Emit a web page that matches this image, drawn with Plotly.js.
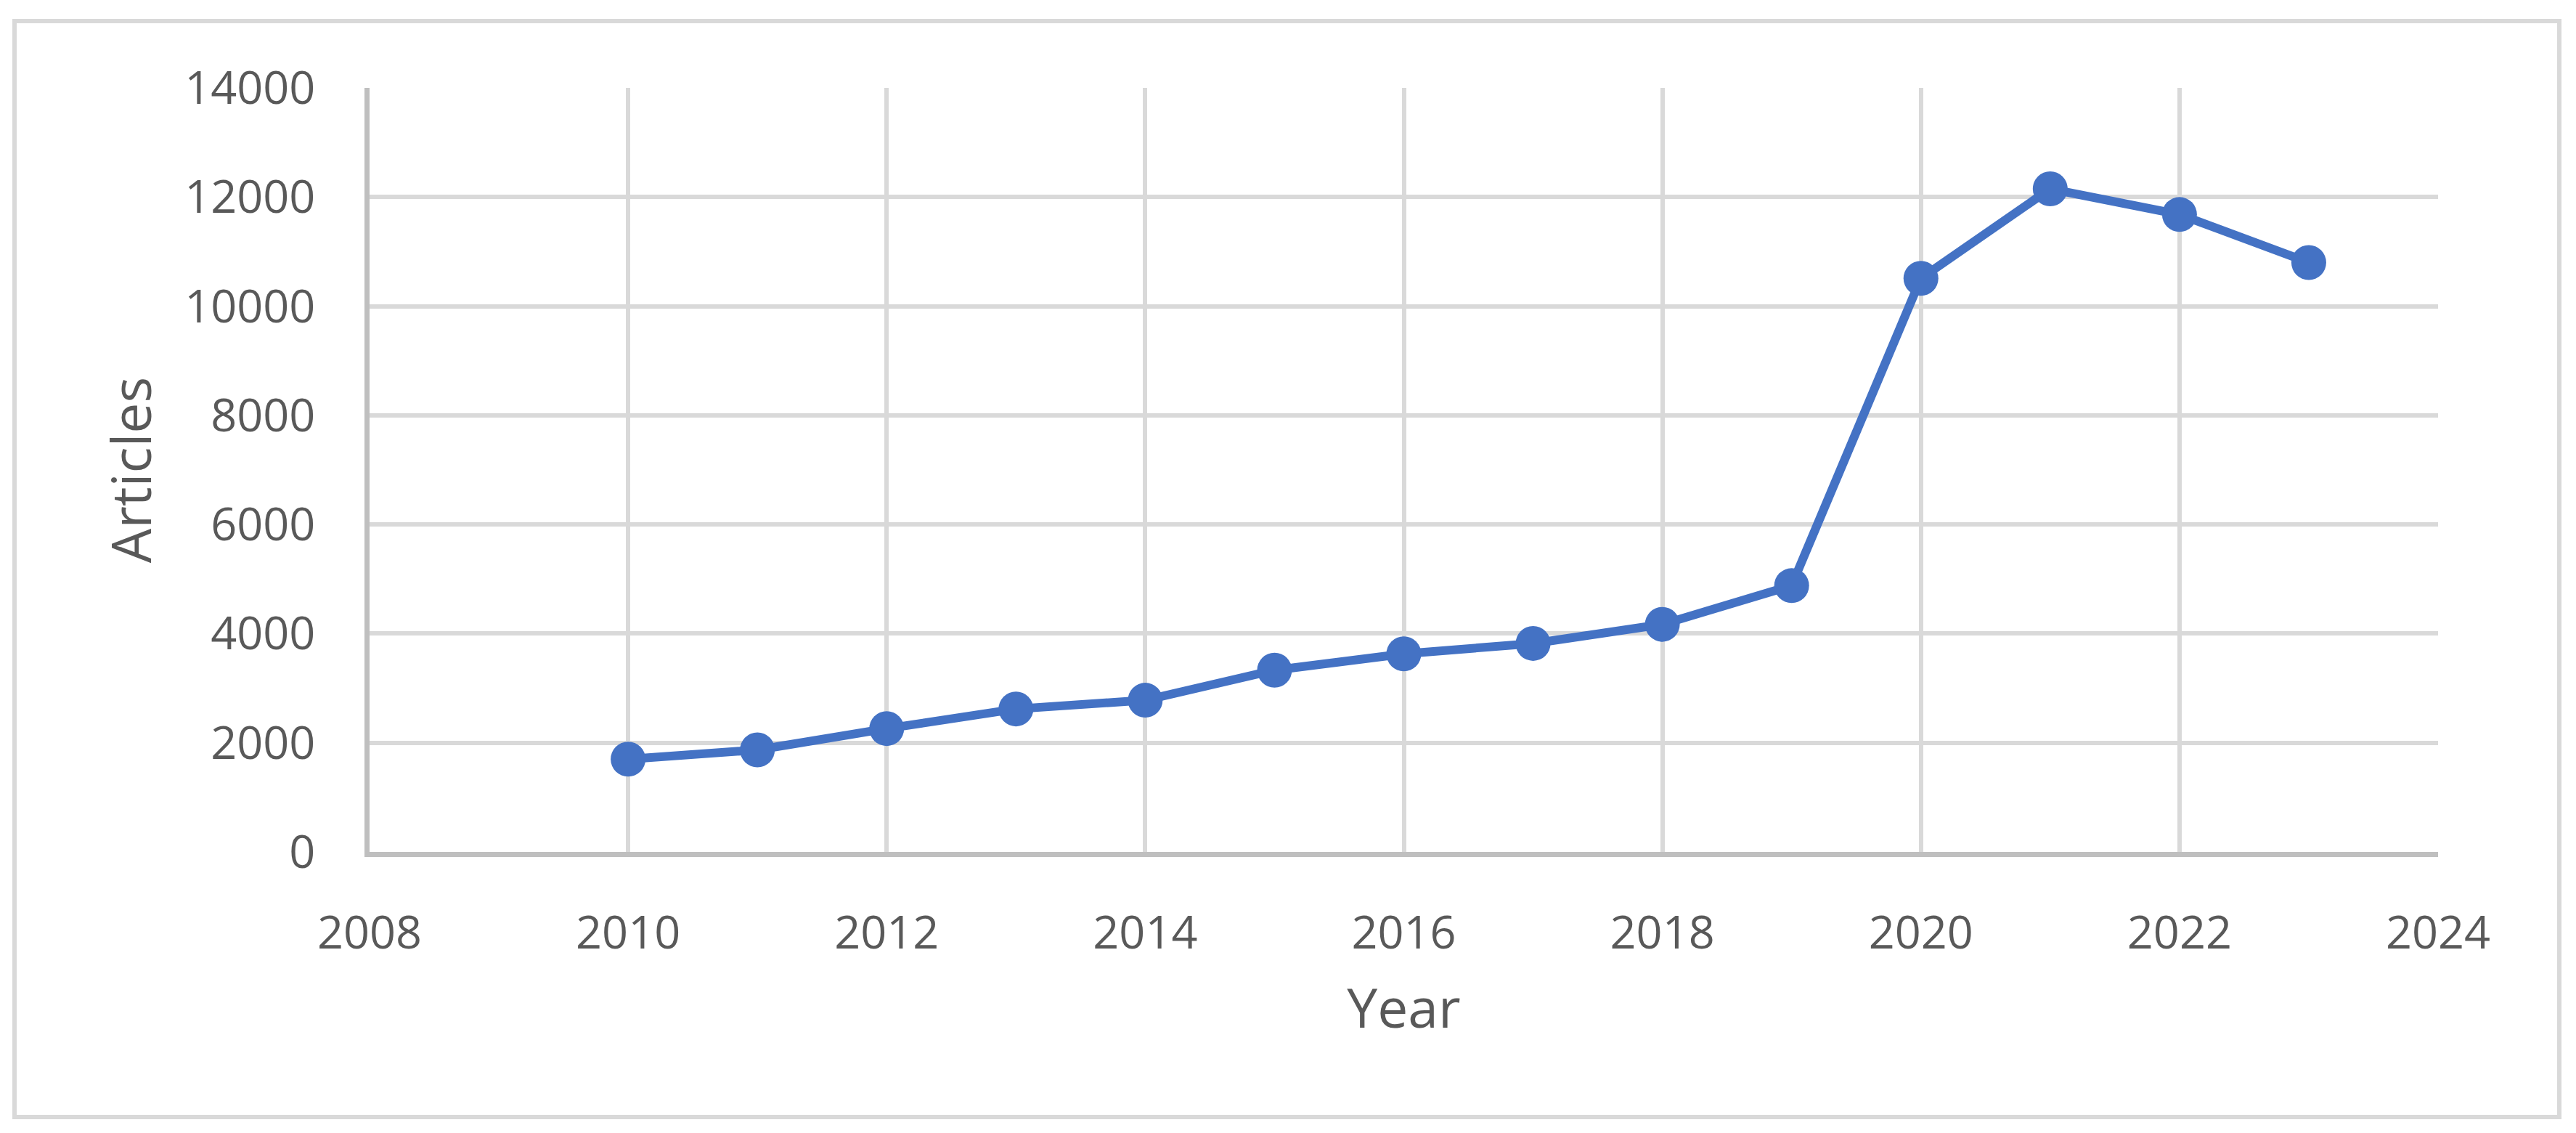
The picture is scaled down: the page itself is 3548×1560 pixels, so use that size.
<!DOCTYPE html>
<html>
<head>
<meta charset="utf-8">
<script src="https://cdn.plot.ly/plotly-3.0.1.min.js"></script>
<style>html,body{margin:0;padding:0;background:#fff;}#chart{width:3548px;height:1560px;}</style>
</head>
<body>
<div id="chart"></div>
<script>
const years = [2010, 2011, 2012, 2013, 2014, 2015, 2016, 2017, 2018, 2019, 2020, 2021, 2022, 2023];
const articles = [1700, 1870, 2260, 2620, 2780, 3330, 3630, 3820, 4170, 4880, 10510, 12150, 11680, 10800];
const xTicks = [2008, 2010, 2012, 2014, 2016, 2018, 2020, 2022, 2024];
const yTicks = [0, 2000, 4000, 6000, 8000, 10000, 12000, 14000];
const xTitle = 'Year';
const yTitle = 'Articles';

const W = 3548, H = 1560;
const L = 509, R = 3358, T = 121, B = 1173;
const pw = R - L, ph = B - T;
function px(x) { return (x - L) / pw; }
function py(y) { return (B - y) / ph; }

const textColor = '#595959';
const font = 'Open Sans, sans-serif';

const trace = {
  x: years, y: articles, type: 'scatter', mode: 'lines+markers',
  line: {color: '#4472C4', width: 12},
  marker: {color: '#4472C4', size: 48},
  cliponaxis: false, hoverinfo: 'skip'
};

const layout = {
  width: W, height: H,
  margin: {l: L, r: W - R, t: T, b: H - B, pad: 0},
  paper_bgcolor: '#ffffff', plot_bgcolor: '#ffffff',
  showlegend: false,
  font: {family: font, color: textColor},
  xaxis: {
    range: [2008, 2024], tickvals: xTicks, ticktext: xTicks.map(String),
    showgrid: true, gridcolor: '#d9d9d9', gridwidth: 6,
    zeroline: false, showline: true, linecolor: '#bfbfbf', linewidth: 7,
    ticks: '', ticklabelstandoff: 50,
    tickfont: {size: 63, color: textColor, family: font},
    title: {text: xTitle, font: {size: 75, color: textColor, family: font}, standoff: 42}
  },
  yaxis: {
    range: [0, 14000], tickvals: yTicks, ticktext: yTicks.map(String),
    showgrid: true, gridcolor: '#d9d9d9', gridwidth: 6,
    zeroline: false, showline: true, linecolor: '#bfbfbf', linewidth: 7,
    ticks: '', ticklabelstandoff: 55,
    tickfont: {size: 63, color: textColor, family: font},
    title: {text: yTitle, font: {size: 75, color: textColor, family: font}, standoff: 24}
  },
  shapes: [{
    type: 'rect', xref: 'paper', yref: 'paper', layer: 'below',
    x0: px(20), x1: px(3525), y0: py(1538), y1: py(29),
    line: {color: '#d9d9d9', width: 6}, fillcolor: 'rgba(0,0,0,0)'
  }]
};

Plotly.newPlot('chart', [trace], layout, {staticPlot: true, displayModeBar: false});
</script>
</body>
</html>
